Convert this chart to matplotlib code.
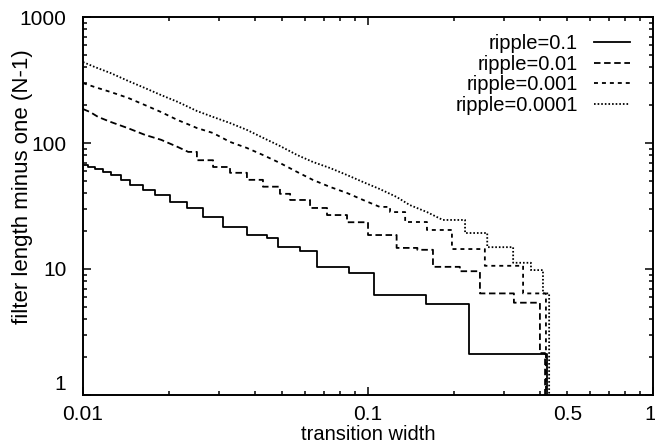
import numpy as np
import matplotlib
matplotlib.use("Agg")
import matplotlib.pyplot as plt
import matplotlib.transforms as mtransforms
from matplotlib.ticker import FixedLocator, FuncFormatter, NullFormatter

plt.rcParams['font.family'] = ['Liberation Sans', 'DejaVu Sans']

# transition width at each read point / step start (last entry = where the curve drops to zero)
# and the filter length N-1 there
width_r1 = [0.0100, 0.0104, 0.0110, 0.0118, 0.0125, 0.0136, 0.0146, 0.0162, 0.0179, 0.0202,
            0.0232, 0.0264, 0.0310, 0.0376, 0.0442, 0.0483, 0.0577, 0.0662, 0.0858, 0.105,
            0.160, 0.226, 0.425]
len_r1 = [67, 64.5, 62, 59, 56, 51, 46, 42, 39, 34, 30.5, 26, 21.5, 18.5, 17.5, 15, 14,
          10.4, 9.3, 6.2, 5.3, 2.1]

width_r2 = [0.0100, 0.0106, 0.0113, 0.0125, 0.0144, 0.0165, 0.0188, 0.0215, 0.0234, 0.0251,
            0.0286, 0.0328, 0.0376, 0.0428, 0.0491, 0.0533, 0.0626, 0.0718, 0.0844, 0.100,
            0.126, 0.149, 0.169, 0.210, 0.247, 0.325, 0.401, 0.418]
len_r2 = [186, 176, 161, 147, 131, 116, 106, 93, 85, 73, 64.5, 58, 51, 45, 39.5, 35.3, 30.5,
          26.8, 23.5, 18.6, 14.7, 14.2, 10.4, 9.6, 6.4, 5.4, 2.15]

width_r3 = [0.0100, 0.0110, 0.0125, 0.0144, 0.0165, 0.0188, 0.0215, 0.0237, 0.0251, 0.0286,
            0.0328, 0.0376, 0.0428, 0.0491, 0.0564, 0.0641, 0.0736, 0.0844, 0.0961, 0.110,
            0.1195, 0.135, 0.161, 0.197, 0.257, 0.350, 0.421]
len_r3 = [299, 278, 254, 228, 200, 176, 152, 139, 131.5, 120, 102, 91.3, 80.3, 69.4, 58.9,
          50.9, 44.8, 40.1, 35.3, 31.1, 28.3, 23.6, 20.4, 14.4, 10.6, 6.4]

width_r4 = [0.0100, 0.0110, 0.0125, 0.0144, 0.0165, 0.0188, 0.0215, 0.0251, 0.0286, 0.0328,
            0.0376, 0.0428, 0.0491, 0.0564, 0.0641, 0.0736, 0.0844, 0.0961, 0.110, 0.126,
            0.140, 0.161, 0.183, 0.219, 0.262, 0.323, 0.373, 0.411, 0.432]
len_r4 = [439, 401, 359, 311, 273, 240, 212, 179.5, 161, 144, 127, 110, 94.7, 80.3, 70.7,
          63.3, 55.7, 49.0, 43.1, 37.3, 32.2, 28.3, 24.5, 19.3, 14.9, 11.2, 9.8, 6.4]

# for small widths the steps are too fine to see, so the first points are joined directly
n_smooth = [0, 8, 19, 22]

labels = ['ripple=0.1', 'ripple=0.01', 'ripple=0.001', 'ripple=0.0001']
styles = ['-', (0, (3.6, 2.0)), (0, (2.2, 2.2)), (0, (0.9, 1.1))]


def curve(starts, levels, n_line):
    starts = np.asarray(starts, dtype=float)
    levels = np.asarray(levels, dtype=float)
    s, l = starts[n_line:], levels[n_line:]
    sx = np.repeat(s, 2)[1:-1]
    sy = np.repeat(l, 2)
    # trailing zero sends the last step down off the bottom of the log axis
    x = np.concatenate([starts[:n_line], sx, [s[-1]]])
    y = np.concatenate([levels[:n_line], sy, [0.0]])
    return x, y


fig = plt.figure(figsize=(6.55, 4.43), dpi=100)
ax = fig.add_axes([0.1267, 0.1084, 0.8703, 0.8532])

series = [(width_r1, len_r1), (width_r2, len_r2), (width_r3, len_r3), (width_r4, len_r4)]
for (w, n), k, lab, ls in zip(series, n_smooth, labels, styles):
    x, y = curve(w, n, k)
    ax.plot(x, y, color='black', linestyle=ls, linewidth=1.3, label=lab)

ax.set_xscale('log')
ax.set_yscale('log')
ax.set_xlim(0.01, 1)
ax.set_ylim(1, 1000)

ax.xaxis.set_major_locator(FixedLocator([0.01, 0.1, 1]))
ax.xaxis.set_major_formatter(FuncFormatter(lambda v, p: '%g' % v))
ax.xaxis.set_minor_locator(FixedLocator([k * 0.01 for k in range(2, 10)] +
                                        [k * 0.1 for k in range(2, 10)]))
ax.xaxis.set_minor_formatter(FuncFormatter(lambda v, p: '0.5' if abs(v - 0.5) < 1e-9 else ''))
ax.yaxis.set_major_locator(FixedLocator([1, 10, 100, 1000]))
ax.yaxis.set_major_formatter(FuncFormatter(lambda v, p: '%g' % v))
ax.yaxis.set_minor_locator(FixedLocator([k * d for d in (1, 10, 100) for k in range(2, 10)]))
ax.yaxis.set_minor_formatter(NullFormatter())

ax.tick_params(which='both', direction='in', top=True, right=True, labelsize=15, width=1.1)
ax.tick_params(which='major', length=6, pad=7)
ax.tick_params(which='minor', length=3, pad=7)
ax.tick_params(axis='y', which='major', pad=12)
for s in ax.spines.values():
    s.set_linewidth(1.4)

ax.set_xlabel('transition width', fontsize=14.5, labelpad=1)
ax.set_ylabel('filter length minus one (N-1)', fontsize=16)
ax.yaxis.set_label_coords(-0.088, 0.55)

ax.legend(loc='upper right', bbox_to_anchor=(0.96, 0.955), frameon=False,
          markerfirst=False, fontsize=14.5, handlelength=1.8, handletextpad=0.8,
          labelspacing=0.08, borderpad=0, borderaxespad=0)

fig.canvas.draw()
# nudge the corner labels: "1" on y sits above the x labels, "1" on x stays inside the figure
for t in ax.yaxis.get_majorticklabels():
    if t.get_text() == '1':
        t.set_transform(t.get_transform() + mtransforms.ScaledTranslation(0, 0.12, fig.dpi_scale_trans))
for t in ax.xaxis.get_majorticklabels():
    if t.get_text() == '1':
        t.set_transform(t.get_transform() + mtransforms.ScaledTranslation(-0.03, 0, fig.dpi_scale_trans))

fig.savefig('out.png', dpi=100)
